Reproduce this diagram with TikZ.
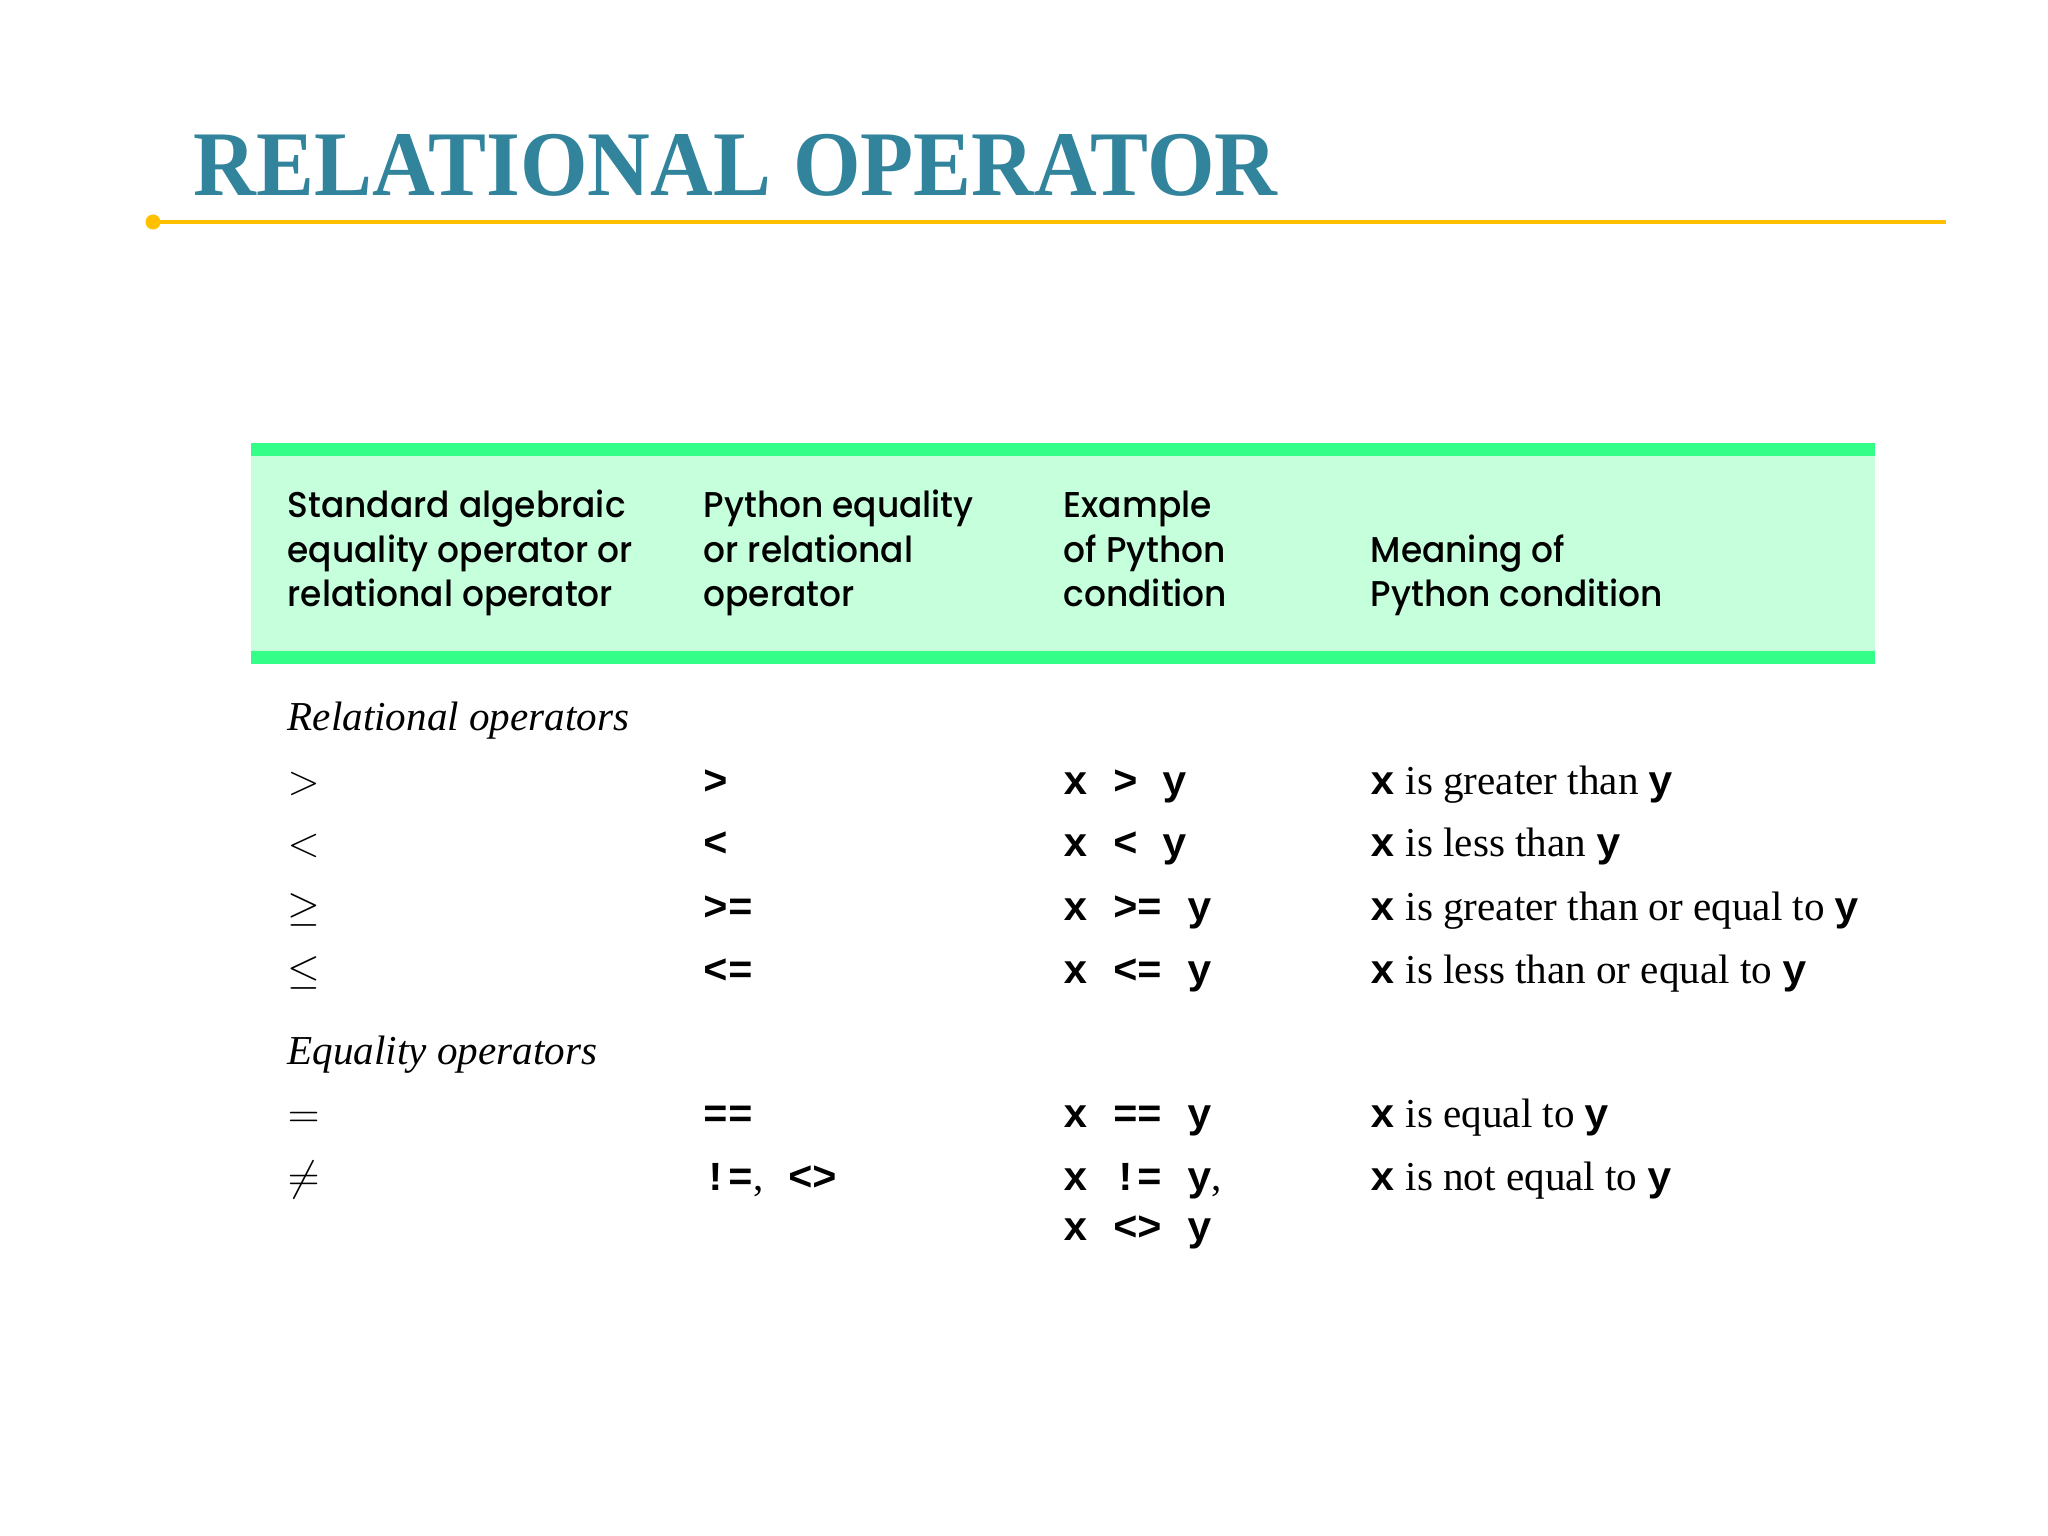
\documentclass[tikz,border=0pt]{standalone}
\usepackage{fontspec}
\setmainfont{Liberation Serif}
\setsansfont{Poppins}[UprightFont={* Medium}, FakeStretch=0.96]
\setmonofont{Liberation Mono}
\newfontfamily\titlefont{Liberation Serif}[FakeStretch=0.94]
\usetikzlibrary{positioning}
\definecolor{titleteal}{HTML}{31849B}
\definecolor{rulegold}{HTML}{FFC000}
\definecolor{hdgreen}{HTML}{33FF88}
\definecolor{hdlight}{HTML}{C6FFDC}
\newcommand{\pycode}[1]{{\ttfamily\bfseries #1}}
\tikzset{
 hdtext/.style={anchor=base west, inner sep=0, align=left, font=\sffamily\fontsize{10.2}{12.8}\selectfont},
 celltext/.style={anchor=base west, inner sep=0, font=\fontsize{11.7}{14}\selectfont},
 grouptext/.style={celltext, font=\fontsize{11.7}{14}\selectfont\itshape}
}
\begin{document}
\begin{tikzpicture}
\useasboundingbox (0,0) rectangle (20.48,-15.36);
% title and rule
\node[anchor=base west, inner sep=0, text=titleteal, font=\titlefont\fontsize{26.3}{30}\selectfont\bfseries] (title) at (1.93,-1.96) {RELATIONAL OPERATOR};
\coordinate (ruleL) at (1.53,-2.22);
\coordinate (ruleR) at (19.46,-2.22);
\draw[rulegold, line width=0.9pt] (ruleL) -- (ruleR);
\fill[rulegold] (ruleL) circle (0.075);
% header band
\fill[hdlight] (2.51,-4.50) rectangle (18.75,-6.57);
\fill[hdgreen] (2.51,-4.43) rectangle (18.75,-4.56);
\fill[hdgreen] (2.51,-6.51) rectangle (18.75,-6.64);
% base anchor sits on the last line
\node[hdtext] (hdA) at (2.87,-6.07) {Standard algebraic\\equality operator or\\relational operator};
\node[hdtext] (hdB) at (7.03,-6.07) {Python equality\\or relational\\operator};
\node[hdtext] (hdC) at (10.63,-6.07) {Example\\of Python\\condition};
\node[hdtext] (hdD) at (13.70,-6.07) {Meaning of\\Python condition};
% rows
\node[grouptext] (relhd) at (2.87,-7.31) {Relational operators};
\node[grouptext] (eqhd) at (2.87,-10.65) {Equality operators};
\foreach \y/\sym/\op/\ex/\mean [count=\i] in {
 7.94/{$>$}/{>}/{x > y}/{is greater than},
 8.57/{$<$}/{<}/{x < y}/{is less than},
 9.20/{$\geq$}/{>=}/{x >= y}/{is greater than or equal to},
 9.83/{$\leq$}/{<=}/{x <= y}/{is less than or equal to},
 11.27/{$=$}/{==}/{x == y}/{is equal to},
 11.90/{$\neq$}/{!=\textnormal{,} <>}/{x != y\textnormal{,}}/{is not equal to}} {
 \node[celltext] (sym\i) at (2.87,-\y) {\sym};
 \node[celltext] (op\i) at (7.03,-\y) {\pycode{\op}};
 \node[celltext] (ex\i) at (10.63,-\y) {\pycode{\ex}};
 \node[celltext] (mean\i) at (13.70,-\y) {\pycode{x} \mean\ \pycode{y}};
}
\node[celltext] (exalt) at (10.63,-12.40) {\pycode{x <> y}};
\end{tikzpicture}
\end{document}
